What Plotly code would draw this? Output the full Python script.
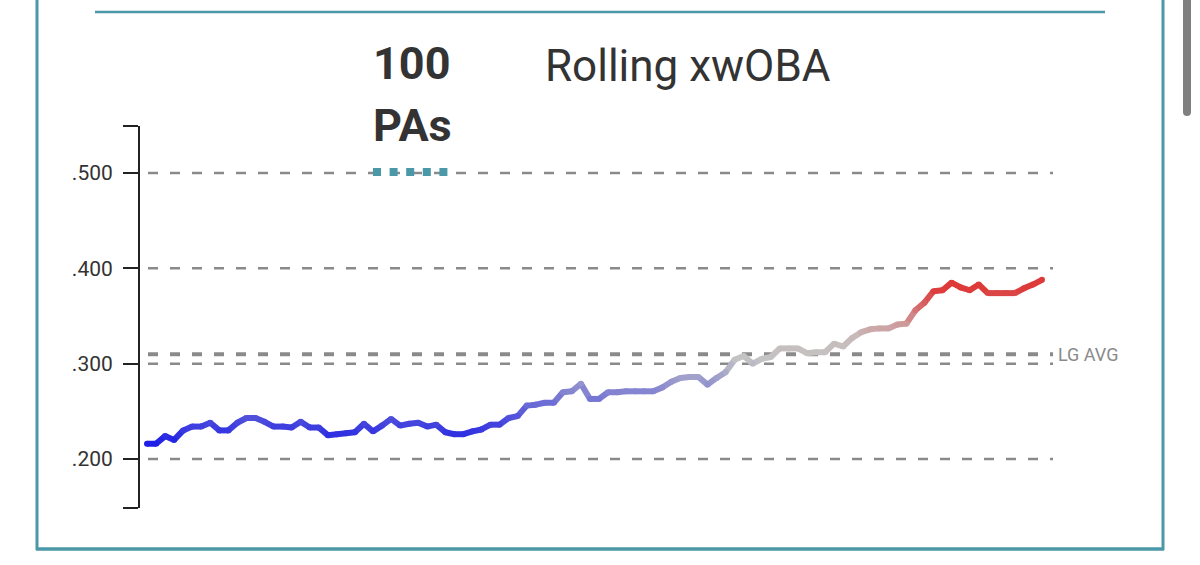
import plotly.graph_objects as go
from plotly.colors import sample_colorscale

# rolling xwOBA over the last 100 PAs
xwoba = [.216, .216, .224, .220, .230, .234, .234, .238, .230, .230,
         .238, .243, .243, .239, .234, .234, .233, .239, .233, .233,
         .225, .226, .227, .228, .237, .229, .235, .242, .235, .237,
         .238, .234, .236, .228, .226, .226, .229, .231, .236, .236,
         .243, .245, .256, .257, .259, .259, .270, .271, .279, .263,
         .263, .270, .270, .271, .271, .271, .271, .275, .281, .285,
         .286, .286, .278, .285, .291, .304, .308, .300, .305, .307,
         .316, .316, .316, .311, .312, .312, .321, .318, .327, .333,
         .336, .337, .337, .341, .342, .356, .364, .376, .377, .385,
         .380, .377, .383, .374, .374, .374, .374, .379, .383, .388]
pa_index = list(range(len(xwoba)))
lg_avg = 0.310
grid_vals = [0.2, 0.3, 0.4, 0.5]
tick_labels = ['.200', '.300', '.400', '.500']

W, H = 1200, 565
TEAL = '#4b98a9'
GRID = '#8a8a8a'
INK = '#333333'


def fx(p):
    return p / W


def fy(p):
    return 1 - p / H


# blue below league average, grey around it, red well above
c_lo, c_hi = 0.215, 0.378


def stop(v):
    return (v - c_lo) / (c_hi - c_lo)


scale = [[0, '#1c1ce6'], [stop(0.305), '#c4c4c4'], [stop(0.33), '#c9b9b9'], [1, '#de3a3a']]


def color_for(v):
    t = min(max(stop(v), 0), 1)
    return sample_colorscale(scale, [t])[0]


fig = go.Figure()

# one trace per segment so the line can fade colour
for i in range(len(xwoba) - 1):
    fig.add_trace(go.Scatter(
        x=pa_index[i:i + 2], y=xwoba[i:i + 2], mode='lines',
        line=dict(color=color_for((xwoba[i] + xwoba[i + 1]) / 2), width=6),
        hoverinfo='skip', showlegend=False))
# dots fill the joints between segments
fig.add_trace(go.Scatter(
    x=pa_index, y=xwoba, mode='markers',
    marker=dict(size=6, color=[color_for(v) for v in xwoba], line=dict(width=0)),
    hovertemplate='%{y:.3f}<extra></extra>', showlegend=False))

# x positions in pixels: first point at 147, last at 1042, axis from 140 to 1060
step = (1042 - 147) / (len(xwoba) - 1)
x_range = [-(147 - 140) / step, (len(xwoba) - 1) + (1060 - 1042) / step]
y_lo = 0.2 - (508 - 459) / 953
y_hi = 0.5 + (173 - 126) / 953

shapes = []
for v in grid_vals:
    shapes.append(dict(type='line', xref='x domain', yref='y', x0=8 / 920, x1=913 / 920,
                       y0=v, y1=v, line=dict(color=GRID, width=2.5, dash='10px,12px'),
                       layer='below'))
shapes.append(dict(type='line', xref='x domain', yref='y', x0=8 / 920, x1=913 / 920,
                   y0=lg_avg, y1=lg_avg, line=dict(color=GRID, width=4, dash='10px,12px'),
                   layer='below'))
# dotted underline below the "100 PAs" toggle
shapes.append(dict(type='line', xref='paper', yref='paper', x0=fx(373), x1=fx(450),
                   y0=fy(172), y1=fy(172), line=dict(color=TEAL, width=8, dash='8px,8.6px')))
# card frame
shapes += [
    dict(type='line', xref='paper', yref='paper', x0=fx(37), x1=fx(37), y0=fy(0), y1=fy(550),
         line=dict(color=TEAL, width=3)),
    dict(type='line', xref='paper', yref='paper', x0=fx(1163), x1=fx(1163), y0=fy(0), y1=fy(550),
         line=dict(color=TEAL, width=3)),
    dict(type='line', xref='paper', yref='paper', x0=fx(36), x1=fx(1164), y0=fy(549), y1=fy(549),
         line=dict(color=TEAL, width=3.5)),
    dict(type='line', xref='paper', yref='paper', x0=fx(95), x1=fx(1105), y0=fy(12), y1=fy(12),
         line=dict(color=TEAL, width=2.5)),
    # scrollbar thumb
    dict(type='rect', xref='paper', yref='paper', x0=fx(1183), x1=fx(1191), y0=fy(0), y1=fy(112),
         fillcolor='#808080', line=dict(width=0)),
    dict(type='circle', xref='paper', yref='paper', x0=fx(1183), x1=fx(1191), y0=fy(108), y1=fy(116),
         fillcolor='#808080', line=dict(width=0)),
]

annotations = [
    dict(text='<b>100</b>', xref='paper', yref='paper', x=fx(371), y=fy(63), xanchor='left',
         yanchor='middle', showarrow=False, font=dict(family='Roboto', size=45, color=INK)),
    dict(text='<b>PAs</b>', xref='paper', yref='paper', x=fx(371), y=fy(126), xanchor='left',
         yanchor='middle', showarrow=False, font=dict(family='Roboto', size=45, color=INK)),
    dict(text='Rolling xwOBA', xref='paper', yref='paper', x=fx(543), y=fy(66), xanchor='left',
         yanchor='middle', showarrow=False, font=dict(family='Roboto', size=44, color=INK)),
    dict(text='LG AVG', xref='paper', yref='y', x=fx(1056), y=lg_avg, xanchor='left',
         yanchor='middle', showarrow=False, font=dict(family='Roboto', size=18, color='#8a8a8a')),
]

fig.update_layout(
    width=W, height=H, autosize=False,
    margin=dict(l=0, r=0, t=0, b=0),
    paper_bgcolor='white', plot_bgcolor='white',
    shapes=shapes, annotations=annotations,
    xaxis=dict(domain=[fx(140), fx(1060)], range=x_range, visible=False),
    yaxis=dict(
        domain=[fy(508), fy(126)], range=[y_lo, y_hi],
        tickvals=[y_lo + 0.0002] + grid_vals + [y_hi - 0.0002],
        ticktext=[''] + tick_labels + [''],
        showgrid=False, zeroline=False,
        showline=True, linecolor='#222222', linewidth=2,
        ticks='outside', ticklen=15, tickwidth=2, tickcolor='#222222',
        ticklabelstandoff=6,
        tickfont=dict(family='Roboto', size=21, color=INK),
    ),
)

# the page's default 8px body margin would push the card off its place
fig.write_html('out.html', config={'displayModeBar': False},
               post_script="document.body.style.margin='0';")
